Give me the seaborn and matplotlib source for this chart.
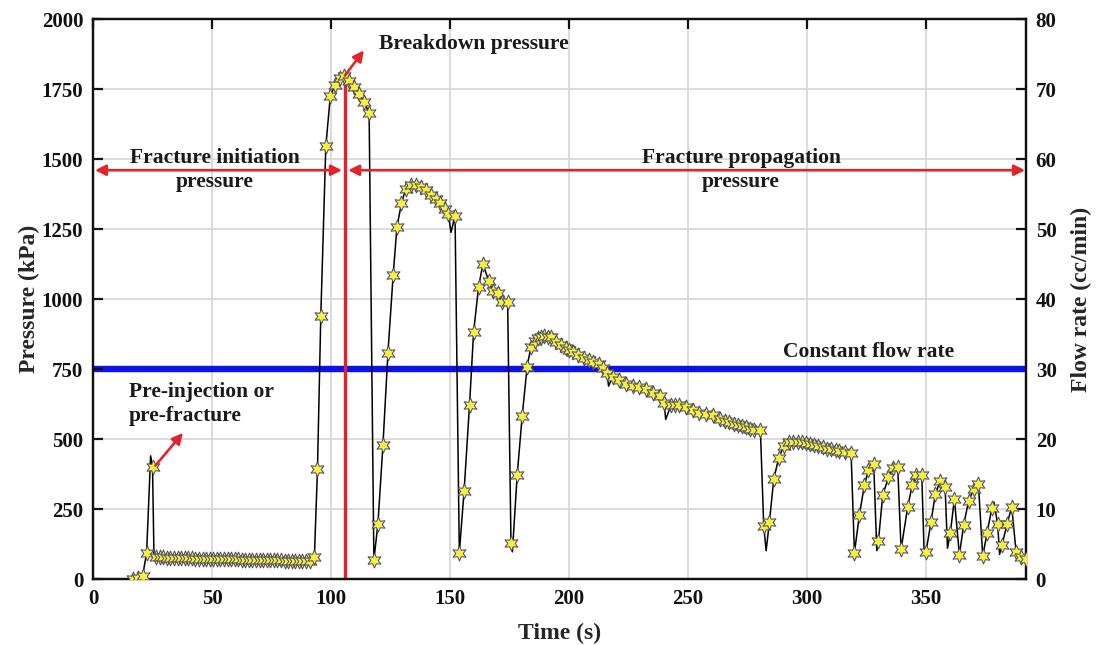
import matplotlib
matplotlib.use("Agg")
import matplotlib.pyplot as plt
import numpy as np
import pandas as pd
import seaborn as sns

# ---------------- data ----------------
# pressure readings marked with stars: (time s, pressure kPa)
stars_pre = [(16.6, 0), (18.7, 3), (20.8, 10), (22.5, 92), (25.0, 399)]
stars_flat = [
    (26.5, 78), (28.0, 77), (29.5, 77), (31.0, 76), (32.5, 76), (34.0, 75),
    (35.5, 75), (37.0, 75), (38.5, 74), (40.0, 74), (41.5, 74), (43.0, 73),
    (44.5, 73), (46.0, 73), (47.5, 72), (49.0, 72), (50.5, 72), (52.0, 71),
    (53.5, 71), (55.0, 71), (56.5, 70), (58.0, 70), (59.5, 70), (61.0, 70),
    (62.5, 69), (64.0, 69), (65.5, 69), (67.0, 69), (68.5, 68), (70.0, 68),
    (71.5, 68), (73.0, 68), (74.5, 67), (76.0, 67), (77.5, 67), (79.0, 67),
    (80.5, 66), (82.0, 66), (83.5, 66), (85.0, 66), (86.5, 66), (88.0, 65),
    (89.5, 65), (91.0, 65)]
stars_breakdown = [
    (93.0, 77), (94.3, 392), (95.7, 940), (97.8, 1545), (99.7, 1725),
    (101.8, 1765), (103.8, 1790), (105.6, 1795), (107.7, 1780), (109.8, 1757),
    (111.9, 1731), (114.0, 1702), (116.0, 1665)]
stars_cycle2 = [
    (118.0, 68), (119.7, 197), (121.8, 477), (123.9, 807), (126.1, 1086),
    (127.7, 1258), (129.6, 1342), (131.4, 1394), (133.5, 1407), (135.6, 1407),
    (137.7, 1401), (139.9, 1388), (142.0, 1372), (144.1, 1359), (145.8, 1342),
    (147.9, 1323), (149.3, 1303), (152.1, 1297)]
stars_cycle3 = [
    (153.9, 93), (155.9, 314), (158.2, 623), (159.9, 882), (162.0, 1044),
    (163.8, 1125), (166.2, 1066), (168.0, 1027), (170.1, 1022), (171.8, 988),
    (174.2, 988)]
stars_cycle4 = [
    (175.6, 130), (178.2, 370), (180.3, 582), (182.4, 759), (184.0, 830),
    (185.5, 850), (186.8, 860), (188.2, 866), (189.6, 868), (191.0, 866),
    (192.4, 863), (194.5, 848), (196.6, 836), (198.7, 824), (200.1, 818),
    (201.5, 812), (203.9, 800), (206.4, 788), (208.2, 782), (210.0, 776),
    (212.7, 768), (214.3, 755), (216.0, 735), (218.4, 723), (221.1, 711),
    (224.0, 696), (226.8, 689), (229.5, 685), (232.4, 677), (235.2, 663),
    (238.4, 654), (240.0, 627), (242.9, 621), (244.6, 622), (246.3, 621),
    (249.2, 613), (252.0, 604), (254.8, 594), (257.6, 589), (260.4, 584),
    (263.5, 572), (265.5, 566), (267.4, 560), (269.2, 555), (270.9, 550),
    (272.6, 546), (274.4, 542), (276.0, 537), (277.6, 532), (280.4, 532)]
stars_cycle5 = [
    (281.8, 189), (284.2, 205), (286.0, 356), (288.1, 433), (290.2, 475),
    (292.6, 490), (294.3, 491), (296.1, 490), (297.8, 488), (299.6, 485),
    (301.3, 482), (303.1, 479), (304.8, 475), (306.6, 470), (308.4, 466),
    (310.1, 463), (312.0, 460), (313.6, 458), (316.0, 455), (318.5, 451)]
stars_tail = [
    (319.9, 94), (322.0, 229), (324.1, 336), (325.8, 389), (328.0, 411),
    (330.0, 137), (331.8, 300), (334.2, 363), (336.0, 395), (338.1, 399),
    (339.5, 106), (342.3, 258), (344.2, 336), (345.8, 371), (348.2, 373),
    (350.0, 98), (352.1, 205), (353.9, 304), (356.0, 351), (358.0, 330),
    (360.2, 165), (361.9, 286), (364.0, 86), (365.8, 193), (367.9, 280),
    (370.0, 320), (372.0, 338), (373.8, 82), (375.6, 163), (377.6, 252),
    (380.1, 195), (381.9, 121), (384.0, 195), (386.0, 258), (387.8, 98),
    (389.9, 80), (392.0, 70)]
# extra vertices of the pressure curve that carry no star (spikes / dips)
curve_only = [(24.2, 440), (25.6, 85), (150.4, 1238), (176.2, 97),
              (216.6, 689), (240.6, 570), (282.8, 101), (329.3, 101),
              (349.2, 90), (359.0, 110), (378.5, 275), (380.9, 88)]

# constant flow rate (right axis)
flow_time = [0, 392]
flow_rate = [30, 30]

# annotations
breakdown_time = 106
arrow_level = 1460
x_ticks = [0, 50, 100, 150, 200, 250, 300, 350]
p_ticks = [0, 250, 500, 750, 1000, 1250, 1500, 1750, 2000]
q_ticks = [0, 10, 20, 30, 40, 50, 60, 70, 80]

# ---------------- build tables ----------------
star_pts = (stars_pre + stars_flat + stars_breakdown + stars_cycle2 +
            stars_cycle3 + stars_cycle4 + stars_cycle5 + stars_tail)
df_star = pd.DataFrame(star_pts, columns=["t", "p"])
df_line = pd.DataFrame(star_pts + curve_only, columns=["t", "p"]).sort_values("t")
df_flow = pd.DataFrame({"t": flow_time, "q": flow_rate})

# ---------------- style ----------------
sns.set_theme(style="white")
plt.rcParams["font.family"] = ["Liberation Serif", "DejaVu Serif"]
plt.rcParams["font.weight"] = "bold"
plt.rcParams["axes.labelweight"] = "bold"

RED = "#e3232b"
BLUE = "#0b12e8"
GRID = "#d6d6d6"

fig = plt.figure(figsize=(10.97, 6.45), dpi=100)
ax = fig.add_axes([0.0848, 0.1023, 0.8505, 0.8682])
ax2 = ax.twinx()
ax.set_zorder(ax2.get_zorder() + 1)
ax.patch.set_visible(False)

# grid lives on the lower (flow) axes so it stays under the blue line
ax2.xaxis.set_visible(True)
ax2.tick_params(axis="x", bottom=False, top=False, labelbottom=False,
                labeltop=False)
ax2.grid(True, axis="both", color=GRID, lw=1.2, zorder=0)
ax2.set_axisbelow(True)
ax.grid(False)

# flow rate line (right axis)
sns.lineplot(data=df_flow, x="t", y="q", ax=ax2, color=BLUE, lw=4.6,
             estimator=None, legend=False, zorder=3)

# pressure curve + star markers
sns.lineplot(data=df_line, x="t", y="p", ax=ax, color="black", lw=1.1,
             estimator=None, sort=False, legend=False, zorder=3)
sns.scatterplot(data=df_star, x="t", y="p", ax=ax, marker=(6, 1, 0), s=115,
                color="#f6f03a", edgecolor="#45456e", linewidth=0.7,
                legend=False, zorder=4)

# red breakdown vertical line
ax.plot([breakdown_time, breakdown_time], [0, 1800], color=RED, lw=2.4, zorder=2)

arrow_kw = dict(color=RED, lw=1.9, shrinkA=0, shrinkB=0, mutation_scale=16)
ax.annotate("", xy=(0.8, arrow_level), xytext=(104.6, arrow_level),
            arrowprops=dict(arrowstyle="<|-|>", **arrow_kw), zorder=5)
ax.annotate("", xy=(107.2, arrow_level), xytext=(391.6, arrow_level),
            arrowprops=dict(arrowstyle="<|-|>", **arrow_kw), zorder=5)
ax.annotate("", xy=(113.8, 1888), xytext=(105.8, 1798),
            arrowprops=dict(arrowstyle="-|>", **arrow_kw), zorder=5)
ax.annotate("", xy=(37.8, 522), xytext=(26.2, 405),
            arrowprops=dict(arrowstyle="-|>", **arrow_kw), zorder=5)

tkw = dict(fontsize=15.5, fontweight="bold", color="#1a1a1a", zorder=6)
ax.text(51.3, arrow_level, "Fracture initiation\npressure", ha="center",
        va="center", linespacing=1.25, **tkw)
ax.text(272.3, arrow_level, "Fracture propagation\npressure", ha="center",
        va="center", linespacing=1.25, **tkw)
ax.text(120.2, 1911, "Breakdown pressure", ha="left", va="center", **tkw)
ax.text(15.1, 625, "Pre-injection or\npre-fracture", ha="left", va="center",
        linespacing=1.25, **tkw)
ax.text(325.8, 811, "Constant flow rate", ha="center", va="center", **tkw)

# ---------------- axes ----------------
ax.set_xlim(0, 392)
ax.set_ylim(0, 2000)
ax2.set_ylim(0, 80)
ax.set_xticks(x_ticks)
ax.set_yticks(p_ticks)
ax2.set_yticks(q_ticks)

ax.tick_params(direction="in", length=7, width=1.6, top=True, right=False,
               labelsize=15, pad=7, colors="#111111")
ax2.tick_params(axis="y", direction="in", length=7, width=1.6, labelsize=15,
                pad=7, colors="#111111")
for lab in ax.get_xticklabels() + ax.get_yticklabels() + ax2.get_yticklabels():
    lab.set_fontweight("bold")

for a in (ax, ax2):
    for sp in a.spines.values():
        sp.set_color("#111111")
        sp.set_linewidth(1.6)

ax.set_xlabel("Time (s)", fontsize=17, fontweight="bold", labelpad=10)
ax.set_ylabel("Pressure (kPa)", fontsize=17, fontweight="bold", labelpad=1)
ax2.set_ylabel("Flow rate (cc/min)", fontsize=17, fontweight="bold", labelpad=10)
ax2.set_xlabel("")

fig.savefig("out.png", dpi=100)
